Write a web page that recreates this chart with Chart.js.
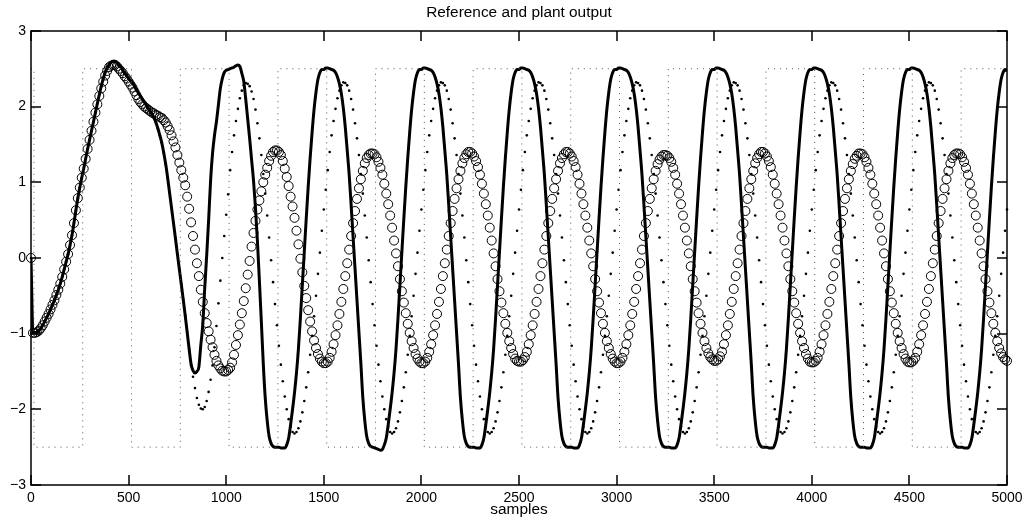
<!DOCTYPE html>
<html lang="en">
<head>
  <meta charset="UTF-8" />
  <title>Reference and plant output</title>
  <script src="https://cdn.jsdelivr.net/npm/chart.js"></script>
  <style>
    html, body { margin: 0; padding: 0; background: #fff; }
    #wrap { width: 1034px; height: 527px; }
  </style>
</head>
<body>
  <div id="wrap"><canvas id="plot" width="1034" height="527"></canvas></div>

  <script>
    // every series holds one value per STEP samples, k = 0 .. 5000
    const STEP = 10;
    const N_SAMPLES = 5000;

    // reference square wave: switching instants and the level held from each one
    const refSwitch = [0, 15, 265, 515, 765, 1015, 1265, 1515, 1765, 2015, 2265,
                       2515, 2765, 3015, 3265, 3515, 3765, 4015, 4265, 4515, 4765, 5000];
    const refLevel  = [2.5, -2.5, 2.5, -2.5, 2.5, -2.5, 2.5, -2.5, 2.5, -2.5, 2.5,
                       -2.5, 2.5, -2.5, 2.5, -2.5, 2.5, -2.5, 2.5, -2.5, 2.5, 2.5];

    // plant output (solid line)
    const plantOut = [
      0.00, -0.99, -0.99, -0.98, -0.96, -0.93, -0.89, -0.84, -0.79, -0.74,
      -0.68, -0.62, -0.56, -0.49, -0.42, -0.34, -0.25, -0.15, -0.05, 0.05,
      0.17, 0.30, 0.46, 0.63, 0.79, 0.93, 1.06, 1.18, 1.31, 1.44,
      1.56, 1.68, 1.80, 1.92, 2.04, 2.16, 2.27, 2.37, 2.45, 2.51,
      2.55, 2.58, 2.60, 2.60, 2.58, 2.55, 2.52, 2.48, 2.44, 2.41,
      2.37, 2.34, 2.31, 2.27, 2.22, 2.18, 2.14, 2.10, 2.06, 2.02,
      1.98, 1.94, 1.90, 1.85, 1.79, 1.71, 1.62, 1.52, 1.39, 1.24,
      1.06, 0.86, 0.66, 0.46, 0.26, 0.05, -0.15, -0.35, -0.55, -0.76,
      -0.98, -1.20, -1.40, -1.49, -1.52, -1.50, -1.44, -1.15, -0.88, -0.40,
      0.03, 0.50, 1.02, 1.38, 1.62, 1.80, 2.02, 2.24, 2.37, 2.45,
      // 1000
      2.48, 2.49, 2.50, 2.51, 2.52, 2.54, 2.55, 2.53, 2.44, 2.33,
      2.10, 1.84, 1.58, 1.30, 1.02, 0.66, 0.22, -0.30, -0.84, -1.40,
      -1.85, -2.15, -2.36, -2.45, -2.49, -2.50, -2.50, -2.50, -2.51, -2.51,
      -2.51, -2.47, -2.38, -2.20, -2.00, -1.78, -1.52, -1.20, -0.80, -0.36,
      0.08, 0.52, 0.94, 1.32, 1.66, 1.96, 2.19, 2.36, 2.45, 2.49,
      // 1500
      2.49, 2.51, 2.51, 2.50, 2.49, 2.48, 2.45, 2.39, 2.30, 2.17,
      1.98, 1.73, 1.42, 1.10, 0.70, 0.28, -0.14, -0.56, -0.98, -1.40,
      -1.85, -2.15, -2.36, -2.45, -2.49, -2.50, -2.51, -2.52, -2.53, -2.54,
      -2.53, -2.47, -2.38, -2.20, -2.00, -1.78, -1.52, -1.20, -0.80, -0.36,
      0.08, 0.52, 0.94, 1.32, 1.66, 1.96, 2.19, 2.36, 2.45, 2.49,
      // 2000
      2.49, 2.51, 2.51, 2.50, 2.49, 2.48, 2.45, 2.39, 2.30, 2.17,
      1.98, 1.73, 1.42, 1.10, 0.70, 0.28, -0.14, -0.56, -0.98, -1.40,
      -1.85, -2.15, -2.36, -2.45, -2.49, -2.50, -2.50, -2.50, -2.51, -2.51,
      -2.51, -2.47, -2.38, -2.20, -2.00, -1.78, -1.52, -1.20, -0.80, -0.36,
      0.08, 0.52, 0.94, 1.32, 1.66, 1.96, 2.19, 2.36, 2.45, 2.49,
      // 2500
      2.49, 2.51, 2.51, 2.50, 2.49, 2.48, 2.45, 2.39, 2.30, 2.17,
      1.98, 1.73, 1.42, 1.10, 0.70, 0.28, -0.14, -0.56, -0.98, -1.40,
      -1.85, -2.15, -2.36, -2.45, -2.49, -2.50, -2.50, -2.50, -2.51, -2.51,
      -2.51, -2.47, -2.38, -2.20, -2.00, -1.78, -1.52, -1.20, -0.80, -0.36,
      0.08, 0.52, 0.94, 1.32, 1.66, 1.96, 2.19, 2.36, 2.45, 2.49,
      // 3000
      2.49, 2.51, 2.51, 2.50, 2.49, 2.48, 2.45, 2.39, 2.30, 2.17,
      1.98, 1.73, 1.42, 1.10, 0.70, 0.28, -0.14, -0.56, -0.98, -1.40,
      -1.85, -2.15, -2.36, -2.45, -2.49, -2.50, -2.50, -2.50, -2.51, -2.51,
      -2.51, -2.47, -2.38, -2.20, -2.00, -1.78, -1.52, -1.20, -0.80, -0.36,
      0.08, 0.52, 0.94, 1.32, 1.66, 1.96, 2.19, 2.36, 2.45, 2.49,
      // 3500
      2.49, 2.51, 2.51, 2.50, 2.49, 2.48, 2.45, 2.39, 2.30, 2.17,
      1.98, 1.73, 1.42, 1.10, 0.70, 0.28, -0.14, -0.56, -0.98, -1.40,
      -1.85, -2.15, -2.36, -2.45, -2.49, -2.50, -2.50, -2.50, -2.51, -2.51,
      -2.51, -2.47, -2.38, -2.20, -2.00, -1.78, -1.52, -1.20, -0.80, -0.36,
      0.08, 0.52, 0.94, 1.32, 1.66, 1.96, 2.19, 2.36, 2.45, 2.49,
      // 4000
      2.49, 2.51, 2.51, 2.50, 2.49, 2.48, 2.45, 2.39, 2.30, 2.17,
      1.98, 1.73, 1.42, 1.10, 0.70, 0.28, -0.14, -0.56, -0.98, -1.40,
      -1.85, -2.15, -2.36, -2.45, -2.49, -2.50, -2.50, -2.50, -2.51, -2.51,
      -2.51, -2.47, -2.38, -2.20, -2.00, -1.78, -1.52, -1.20, -0.80, -0.36,
      0.08, 0.52, 0.94, 1.32, 1.66, 1.96, 2.19, 2.36, 2.45, 2.49,
      // 4500
      2.49, 2.51, 2.51, 2.50, 2.49, 2.48, 2.45, 2.39, 2.30, 2.17,
      1.98, 1.73, 1.42, 1.10, 0.70, 0.28, -0.14, -0.56, -0.98, -1.40,
      -1.85, -2.15, -2.36, -2.45, -2.49, -2.50, -2.50, -2.50, -2.51, -2.51,
      -2.51, -2.47, -2.38, -2.20, -2.00, -1.78, -1.52, -1.20, -0.80, -0.36,
      0.08, 0.52, 0.94, 1.32, 1.66, 1.96, 2.19, 2.36, 2.45, 2.49,
      // 5000
      2.47
    ];

    // model output (circles)
    const modelOut = [
      0.00, -0.99, -0.99, -0.98, -0.96, -0.93, -0.89, -0.84, -0.79, -0.74,
      -0.68, -0.62, -0.56, -0.49, -0.42, -0.34, -0.25, -0.15, -0.05, 0.05,
      0.17, 0.30, 0.46, 0.63, 0.79, 0.93, 1.06, 1.18, 1.31, 1.44,
      1.56, 1.68, 1.80, 1.92, 2.03, 2.14, 2.24, 2.33, 2.41, 2.47,
      2.52, 2.54, 2.55, 2.55, 2.53, 2.50, 2.47, 2.44, 2.40, 2.37,
      2.33, 2.29, 2.25, 2.20, 2.15, 2.10, 2.06, 2.03, 2.00, 1.98,
      1.96, 1.94, 1.92, 1.91, 1.89, 1.88, 1.86, 1.85, 1.82, 1.79,
      1.74, 1.69, 1.62, 1.54, 1.46, 1.36, 1.26, 1.16, 1.06, 0.96,
      0.81, 0.65, 0.47, 0.29, 0.11, -0.07, -0.24, -0.42, -0.58, -0.73,
      -0.86, -0.97, -1.08, -1.18, -1.28, -1.36, -1.42, -1.46, -1.49, -1.50,
      // 1000
      -1.50, -1.48, -1.45, -1.38, -1.28, -1.15, -1.02, -0.88, -0.73, -0.57,
      -0.40, -0.22, -0.04, 0.15, 0.33, 0.49, 0.64, 0.76, 0.88, 1.00,
      1.10, 1.19, 1.28, 1.35, 1.40, 1.42, 1.42, 1.40, 1.36, 1.28,
      1.18, 1.07, 0.95, 0.81, 0.68, 0.53, 0.36, 0.18, -0.01, -0.19,
      -0.37, -0.53, -0.69, -0.84, -0.97, -1.09, -1.19, -1.27, -1.33, -1.37,
      // 1500
      -1.39, -1.39, -1.37, -1.32, -1.24, -1.14, -1.02, -0.89, -0.74, -0.58,
      -0.41, -0.24, -0.07, 0.11, 0.29, 0.46, 0.62, 0.78, 0.92, 1.04,
      1.15, 1.25, 1.32, 1.36, 1.38, 1.38, 1.37, 1.33, 1.27, 1.19,
      1.10, 0.98, 0.85, 0.71, 0.56, 0.40, 0.23, 0.06, -0.11, -0.28,
      -0.44, -0.59, -0.73, -0.87, -0.99, -1.10, -1.19, -1.27, -1.33, -1.37,
      // 2000
      -1.39, -1.39, -1.37, -1.32, -1.24, -1.14, -1.02, -0.89, -0.74, -0.58,
      -0.41, -0.24, -0.07, 0.11, 0.29, 0.46, 0.62, 0.78, 0.92, 1.04,
      1.15, 1.25, 1.32, 1.37, 1.40, 1.40, 1.38, 1.34, 1.28, 1.20,
      1.10, 0.98, 0.85, 0.71, 0.56, 0.40, 0.23, 0.06, -0.11, -0.28,
      -0.44, -0.59, -0.73, -0.87, -0.99, -1.10, -1.19, -1.27, -1.33, -1.36,
      // 2500
      -1.37, -1.37, -1.35, -1.31, -1.24, -1.14, -1.02, -0.89, -0.74, -0.58,
      -0.41, -0.24, -0.07, 0.11, 0.29, 0.46, 0.62, 0.78, 0.92, 1.04,
      1.15, 1.25, 1.32, 1.37, 1.40, 1.40, 1.38, 1.34, 1.28, 1.20,
      1.10, 0.98, 0.85, 0.71, 0.56, 0.40, 0.23, 0.06, -0.11, -0.28,
      -0.44, -0.59, -0.73, -0.87, -0.99, -1.10, -1.19, -1.27, -1.33, -1.37,
      // 3000
      -1.39, -1.39, -1.37, -1.32, -1.24, -1.14, -1.02, -0.89, -0.74, -0.58,
      -0.41, -0.24, -0.07, 0.11, 0.29, 0.46, 0.62, 0.78, 0.92, 1.04,
      1.15, 1.24, 1.30, 1.34, 1.36, 1.36, 1.35, 1.32, 1.27, 1.19,
      1.10, 0.98, 0.85, 0.71, 0.56, 0.40, 0.23, 0.06, -0.11, -0.28,
      -0.44, -0.59, -0.73, -0.87, -0.99, -1.10, -1.19, -1.26, -1.31, -1.34,
      // 3500
      -1.36, -1.36, -1.34, -1.30, -1.24, -1.14, -1.02, -0.89, -0.74, -0.58,
      -0.41, -0.24, -0.07, 0.11, 0.29, 0.46, 0.62, 0.78, 0.92, 1.04,
      1.15, 1.25, 1.32, 1.37, 1.40, 1.40, 1.38, 1.34, 1.28, 1.20,
      1.10, 0.98, 0.85, 0.71, 0.56, 0.40, 0.23, 0.06, -0.11, -0.28,
      -0.44, -0.59, -0.73, -0.87, -0.99, -1.10, -1.19, -1.27, -1.33, -1.37,
      // 4000
      -1.38, -1.38, -1.36, -1.32, -1.24, -1.14, -1.02, -0.89, -0.74, -0.58,
      -0.41, -0.24, -0.07, 0.11, 0.29, 0.46, 0.62, 0.78, 0.92, 1.04,
      1.15, 1.24, 1.31, 1.35, 1.38, 1.38, 1.37, 1.33, 1.27, 1.19,
      1.10, 0.98, 0.85, 0.71, 0.56, 0.40, 0.23, 0.06, -0.11, -0.28,
      -0.44, -0.59, -0.73, -0.87, -0.99, -1.10, -1.19, -1.27, -1.33, -1.37,
      // 4500
      -1.38, -1.38, -1.36, -1.32, -1.24, -1.14, -1.02, -0.89, -0.74, -0.58,
      -0.41, -0.24, -0.07, 0.11, 0.29, 0.46, 0.62, 0.78, 0.92, 1.04,
      1.15, 1.25, 1.32, 1.36, 1.38, 1.38, 1.37, 1.33, 1.27, 1.19,
      1.10, 0.98, 0.85, 0.71, 0.56, 0.40, 0.23, 0.06, -0.11, -0.28,
      -0.44, -0.59, -0.73, -0.87, -0.99, -1.10, -1.19, -1.26, -1.31, -1.34,
      // 5000
      -1.36
    ];

    // predicted output (dots)
    const predOut = [
      0.00, -0.99, -0.99, -0.98, -0.96, -0.93, -0.89, -0.84, -0.79, -0.74,
      -0.68, -0.62, -0.56, -0.49, -0.42, -0.34, -0.25, -0.15, -0.05, 0.05,
      0.17, 0.30, 0.46, 0.63, 0.79, 0.93, 1.06, 1.18, 1.31, 1.44,
      1.56, 1.68, 1.80, 1.92, 2.04, 2.16, 2.27, 2.37, 2.45, 2.51,
      2.55, 2.58, 2.60, 2.60, 2.58, 2.55, 2.52, 2.48, 2.44, 2.41,
      2.37, 2.34, 2.31, 2.27, 2.22, 2.18, 2.14, 2.10, 2.06, 2.02,
      1.98, 1.94, 1.90, 1.85, 1.79, 1.71, 1.62, 1.52, 1.39, 1.24,
      1.06, 0.86, 0.66, 0.46, 0.26, 0.05, -0.15, -0.35, -0.55, -0.76,
      -0.98, -1.20, -1.42, -1.57, -1.72, -1.85, -1.94, -1.99, -2.00, -1.97,
      -1.89, -1.77, -1.61, -1.42, -1.18, -0.90, -0.60, -0.30, 0.00, 0.29,
      // 1000
      0.57, 0.84, 1.16, 1.40, 1.62, 1.81, 1.97, 2.11, 2.21, 2.28,
      2.31, 2.30, 2.27, 2.20, 2.10, 1.96, 1.78, 1.58, 1.36, 1.11,
      0.85, 0.56, 0.27, -0.03, -0.32, -0.61, -0.89, -1.16, -1.41, -1.63,
      -1.83, -2.00, -2.13, -2.23, -2.30, -2.32, -2.30, -2.25, -2.16, -2.04,
      -1.89, -1.71, -1.51, -1.28, -1.03, -0.77, -0.50, -0.21, 0.07, 0.36,
      // 1500
      0.64, 0.90, 1.16, 1.40, 1.62, 1.81, 1.97, 2.11, 2.21, 2.28,
      2.32, 2.31, 2.28, 2.21, 2.10, 1.96, 1.78, 1.58, 1.36, 1.11,
      0.85, 0.56, 0.27, -0.03, -0.32, -0.61, -0.89, -1.16, -1.41, -1.63,
      -1.83, -2.00, -2.13, -2.23, -2.30, -2.32, -2.30, -2.25, -2.16, -2.04,
      -1.89, -1.71, -1.51, -1.28, -1.03, -0.77, -0.50, -0.21, 0.07, 0.36,
      // 2000
      0.64, 0.90, 1.16, 1.40, 1.62, 1.81, 1.97, 2.11, 2.21, 2.28,
      2.32, 2.31, 2.28, 2.21, 2.10, 1.96, 1.78, 1.58, 1.36, 1.11,
      0.85, 0.56, 0.27, -0.03, -0.32, -0.61, -0.89, -1.16, -1.41, -1.63,
      -1.83, -2.00, -2.13, -2.23, -2.30, -2.32, -2.30, -2.25, -2.16, -2.04,
      -1.89, -1.71, -1.51, -1.28, -1.03, -0.77, -0.50, -0.21, 0.07, 0.36,
      // 2500
      0.64, 0.90, 1.16, 1.40, 1.62, 1.81, 1.97, 2.11, 2.21, 2.28,
      2.32, 2.31, 2.28, 2.21, 2.10, 1.96, 1.78, 1.58, 1.36, 1.11,
      0.85, 0.56, 0.27, -0.03, -0.32, -0.61, -0.89, -1.16, -1.41, -1.63,
      -1.83, -2.00, -2.13, -2.23, -2.30, -2.32, -2.30, -2.25, -2.16, -2.04,
      -1.89, -1.71, -1.51, -1.28, -1.03, -0.77, -0.50, -0.21, 0.07, 0.36,
      // 3000
      0.64, 0.90, 1.16, 1.40, 1.62, 1.81, 1.97, 2.11, 2.21, 2.28,
      2.32, 2.31, 2.28, 2.21, 2.10, 1.96, 1.78, 1.58, 1.36, 1.11,
      0.85, 0.56, 0.27, -0.03, -0.32, -0.61, -0.89, -1.16, -1.41, -1.63,
      -1.83, -2.00, -2.13, -2.23, -2.30, -2.32, -2.30, -2.25, -2.16, -2.04,
      -1.89, -1.71, -1.51, -1.28, -1.03, -0.77, -0.50, -0.21, 0.07, 0.36,
      // 3500
      0.64, 0.90, 1.16, 1.40, 1.62, 1.81, 1.97, 2.11, 2.21, 2.28,
      2.32, 2.31, 2.28, 2.21, 2.10, 1.96, 1.78, 1.58, 1.36, 1.11,
      0.85, 0.56, 0.27, -0.03, -0.32, -0.61, -0.89, -1.16, -1.41, -1.63,
      -1.83, -2.00, -2.13, -2.23, -2.30, -2.32, -2.30, -2.25, -2.16, -2.04,
      -1.89, -1.71, -1.51, -1.28, -1.03, -0.77, -0.50, -0.21, 0.07, 0.36,
      // 4000
      0.64, 0.90, 1.16, 1.40, 1.62, 1.81, 1.97, 2.11, 2.21, 2.28,
      2.32, 2.31, 2.28, 2.21, 2.10, 1.96, 1.78, 1.58, 1.36, 1.11,
      0.85, 0.56, 0.27, -0.03, -0.32, -0.61, -0.89, -1.16, -1.41, -1.63,
      -1.83, -2.00, -2.13, -2.23, -2.30, -2.32, -2.30, -2.25, -2.16, -2.04,
      -1.89, -1.71, -1.51, -1.28, -1.03, -0.77, -0.50, -0.21, 0.07, 0.36,
      // 4500
      0.64, 0.90, 1.16, 1.40, 1.62, 1.81, 1.97, 2.11, 2.21, 2.28,
      2.32, 2.31, 2.28, 2.21, 2.10, 1.96, 1.78, 1.58, 1.36, 1.11,
      0.85, 0.56, 0.27, -0.03, -0.32, -0.61, -0.89, -1.16, -1.41, -1.63,
      -1.83, -2.00, -2.13, -2.23, -2.30, -2.32, -2.30, -2.25, -2.16, -2.04,
      -1.89, -1.71, -1.51, -1.28, -1.03, -0.77, -0.50, -0.21, 0.07, 0.36,
      // 5000
      0.64
    ];

    const xTicks = [0, 500, 1000, 1500, 2000, 2500, 3000, 3500, 4000, 4500, 5000];
    const yTicks = [-3, -2, -1, 0, 1, 2, 3];

    const TICK_LEN = 10;
    const FONT = "'Liberation Sans', Arial, Helvetica, sans-serif";

    // sample index for each stored value
    const sampleIdx = plantOut.map((_, i) => i * STEP);
    const refPoints = refSwitch.map((k, i) => ({ x: k, y: refLevel[i] }));

    // MATLAB style box with inward tick marks on all four sides
    const axesBox = {
      id: 'axesBox',
      afterDatasetsDraw(chart) {
        const { ctx, chartArea: a, scales: { x, y } } = chart;
        const l = Math.round(a.left), r = Math.round(a.right);
        const t = Math.round(a.top), b = Math.round(a.bottom);
        ctx.save();
        ctx.strokeStyle = '#000';
        ctx.lineWidth = 1.5;
        ctx.beginPath();
        x.ticks.forEach(tk => {
          const px = Math.round(x.getPixelForValue(tk.value));
          ctx.moveTo(px, t); ctx.lineTo(px, t + TICK_LEN);
          ctx.moveTo(px, b); ctx.lineTo(px, b - TICK_LEN);
        });
        y.ticks.forEach(tk => {
          const py = Math.round(y.getPixelForValue(tk.value));
          ctx.moveTo(l, py); ctx.lineTo(l + TICK_LEN, py);
          ctx.moveTo(r, py); ctx.lineTo(r - TICK_LEN, py);
        });
        ctx.stroke();
        ctx.strokeRect(l, t, r - l, b - t);
        ctx.restore();
      }
    };

    new Chart(document.getElementById('plot'), {
      type: 'line',
      data: {
        labels: sampleIdx,
        datasets: [
          {
            label: 'reference',
            data: refPoints,
            stepped: 'before',
            borderColor: '#555',
            borderWidth: 1,
            borderDash: [1, 5],
            pointRadius: 0
          },
          {
            label: 'plant',
            data: plantOut,
            borderColor: '#000',
            borderWidth: 3,
            pointRadius: 0,
            cubicInterpolationMode: 'monotone'
          },
          {
            label: 'model',
            data: modelOut,
            showLine: false,
            pointStyle: 'circle',
            pointRadius: 4.5,
            pointBorderWidth: 1,
            pointBorderColor: '#000',
            pointBackgroundColor: 'rgba(0,0,0,0)',
            clip: false
          },
          {
            label: 'predicted',
            data: predOut,
            showLine: false,
            pointRadius: 1.3,
            pointBorderWidth: 0,
            pointBackgroundColor: '#000',
            clip: false
          }
        ]
      },
      options: {
        responsive: false,
        animation: false,
        events: [],
        layout: { padding: { left: 0, right: 27, top: 0, bottom: 0 } },
        plugins: {
          legend: { display: false },
          tooltip: { enabled: false },
          title: {
            display: true,
            fullSize: false, // centred over the axes box, not the canvas
            text: 'Reference and plant output',
            color: '#000',
            font: { family: FONT, size: 15.4, weight: 'normal' },
            padding: { top: 4, bottom: 8.4 }
          }
        },
        scales: {
          x: {
            type: 'linear',
            min: 0,
            max: N_SAMPLES,
            grid: { display: false, drawTicks: false },
            border: { display: false },
            afterBuildTicks: s => { s.ticks = xTicks.map(v => ({ value: v })); },
            afterFit: s => { s.height = 42; },
            ticks: {
              color: '#000',
              padding: 5,
              maxRotation: 0,
              font: { family: FONT, size: 14 },
              callback: v => String(v)
            },
            title: {
              display: true,
              text: 'samples',
              color: '#000',
              font: { family: FONT, size: 15.4 },
              padding: { top: 0, bottom: 8 }
            }
          },
          y: {
            min: -3,
            max: 3,
            grid: { display: false, drawTicks: false },
            border: { display: false },
            afterBuildTicks: s => { s.ticks = yTicks.map(v => ({ value: v })); },
            afterFit: s => { s.width = 31; },
            ticks: {
              color: '#000',
              padding: 5,
              font: { family: FONT, size: 14 },
              callback: v => (v < 0 ? '\u2212' + Math.abs(v) : String(v))
            }
          }
        }
      },
      plugins: [axesBox]
    });
  </script>
</body>
</html>
